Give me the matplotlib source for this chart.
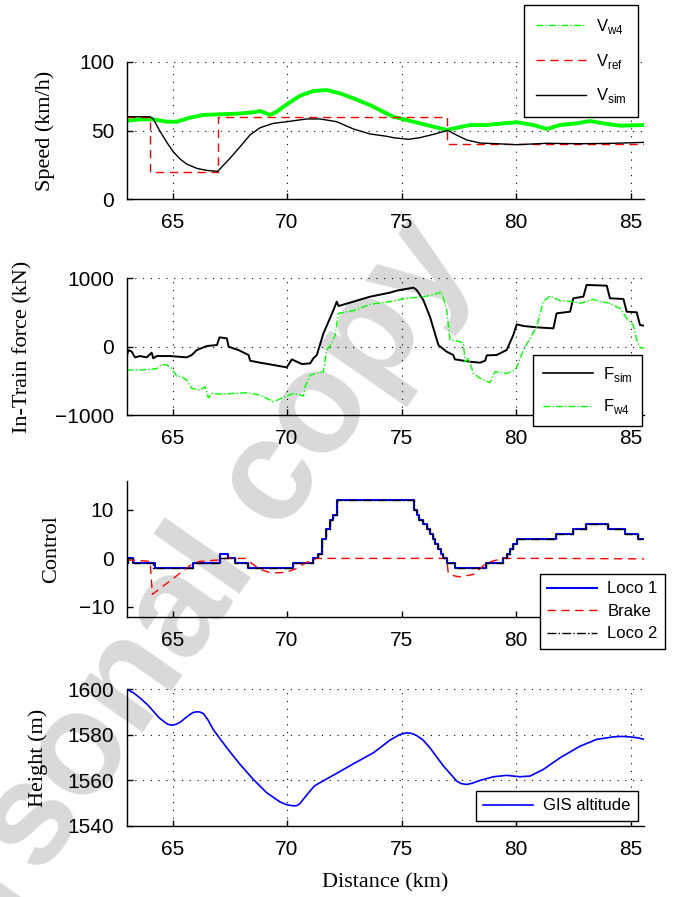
import numpy as np
import matplotlib
matplotlib.use('Agg')
import matplotlib.pyplot as plt
from matplotlib.lines import Line2D

plt.rcParams['font.family'] = ['Liberation Sans', 'DejaVu Sans']
plt.rcParams['mathtext.fontset'] = 'custom'
plt.rcParams['mathtext.rm'] = 'Liberation Sans'

# ---- speed panel ----
vw4_km = [63.0, 63.58, 64.16, 64.75, 65.18, 65.76, 66.34, 67.07, 67.8, 68.53, 68.82, 69.26,
          69.55, 69.99, 70.57, 71.15, 71.73, 72.31, 72.9, 73.62, 74.35, 74.64, 75.23, 75.81,
          76.39, 76.97, 77.41, 77.99, 78.72, 79.3, 80.03, 80.76, 81.34, 81.92, 82.65, 83.23,
          83.81, 84.54, 85.6]
vw4 = [57.1, 58.1, 58.1, 56.4, 56.4, 59.3, 61.3, 61.8, 62.2, 63.2, 64.2, 61.3,
       63.7, 69.0, 75.3, 78.7, 79.4, 77.0, 73.4, 68.5, 62.4, 60.0, 57.6, 55.2,
       52.8, 50.4, 52.0, 54.0, 54.0, 55.0, 56.0, 54.0, 51.1, 54.0, 55.2, 56.9,
       55.2, 53.5, 54.0]

vref_km = [63.0, 64.0, 64.0, 67.0, 67.0, 77.0, 77.0, 85.6]
vref = [60, 60, 20, 20, 60, 60, 40, 40]

vsim_km = [63.0, 64.02, 64.16, 64.45, 64.75, 65.03, 65.33, 65.62, 66.06, 66.5, 66.97, 67.51,
           67.95, 68.38, 68.82, 69.4, 69.99, 70.86, 71.44, 72.17, 72.9, 73.62, 74.35, 74.64,
           75.3, 75.8, 76.39, 77.02, 77.4, 77.85, 78.43, 79.16, 80.03, 81.34, 82.79, 84.25, 85.6]
vsim = [60, 60, 58.4, 49.6, 41.4, 34.6, 29.3, 25.6, 22.5, 21.0, 20.3, 29.8,
        38.2, 46.7, 52.0, 55.2, 56.4, 58.4, 58.4, 56.4, 51.1, 47.5, 45.8, 44.8,
        43.6, 44.8, 47.2, 50.1, 46.7, 43.1, 40.9, 40.4, 39.7, 40.7, 40.4, 40.7, 41.4]

# ---- in-train force panel ----
fsim_km = [63.0, 63.07, 63.22, 63.36, 63.58, 63.87, 64.09, 64.16, 64.31, 64.89, 65.62, 65.84,
           66.06, 66.5, 66.94, 67.05, 67.37, 67.45, 67.74, 67.88, 68.32, 68.39, 68.82, 69.41,
           69.99, 70.21, 70.43, 70.65, 71.01, 71.15, 71.3, 71.59, 72.03, 72.17, 72.25, 72.9,
           73.63, 74.5, 74.79, 75.52, 75.66, 75.95, 76.24, 76.61, 76.97, 77.26, 77.33, 77.99,
           78.43, 78.65, 78.72, 79.15, 79.59, 79.88, 80.03, 80.32, 80.9, 81.63, 81.77, 82.36,
           82.5, 82.94, 83.08, 83.96, 84.1, 84.69, 84.83, 85.27, 85.41, 85.6]
fsim = [-146, -49, -73, -156, -137, -156, -88, -171, -137, -137, -156, -122,
        -49, 10, 24, 137, 122, 0, -34, -49, -122, -205, -234, -268,
        -303, -185, -220, -254, -244, -171, -122, 195, 537, 659, 595, 659,
        732, 791, 820, 864, 830, 683, 439, 24, -73, -122, -185, -220,
        -234, -205, -127, -122, -49, 171, 327, 303, 283, 268, 488, 512,
        708, 732, 903, 893, 708, 698, 512, 503, 317, 307]

fw4_km = [63.0, 63.58, 64.31, 64.53, 64.75, 64.96, 65.18, 65.4, 65.62, 65.84, 66.2, 66.42,
          66.57, 66.72, 67.07, 67.8, 68.24, 68.82, 69.41, 69.99, 70.28, 70.72, 70.79, 71.01,
          71.3, 71.59, 71.73, 71.95, 72.1, 72.25, 72.9, 73.63, 74.5, 75.22, 75.95, 76.39,
          76.75, 76.97, 77.12, 77.55, 77.7, 77.77, 77.92, 78.14, 78.43, 78.86, 79.08, 79.59,
          79.95, 80.1, 80.32, 80.9, 81.19, 81.48, 81.92, 82.5, 82.79, 83.38, 83.67, 84.1,
          84.54, 84.83, 85.12, 85.27, 85.41, 85.6]
fw4 = [-342, -342, -322, -259, -268, -317, -429, -439, -488, -610, -634, -586,
       -747, -683, -693, -683, -673, -708, -805, -722, -683, -722, -586, -415,
       -390, -366, -49, 49, 171, 488, 527, 620, 659, 708, 732, 757,
       805, 537, 98, 73, 49, -220, -171, -390, -464, -527, -366, -390,
       -342, -244, -49, 293, 659, 742, 674, 659, 634, 693, 659, 634,
       561, 415, 317, 98, -10, -24]

# ---- control panel (notch steps) ----
notch_km = [63.0, 63.07, 63.26, 64.16, 64.24, 65.88, 67.07, 67.44, 67.73, 68.31, 70.25, 71.12,
            71.37, 71.51, 71.69, 71.88, 72.02, 72.2, 75.56, 75.66, 75.78, 75.92, 76.1, 76.24,
            76.39, 76.46, 76.61, 76.71, 76.83, 76.97, 77.33, 78.69, 79.42, 79.59, 79.74, 79.88,
            80.03, 81.75, 82.47, 83.06, 84.03, 84.76, 85.34, 85.6]
loco1 = [0, 0, -1, -1, -2, -1, 1, 0, -1, -2, -1, 0,
         1, 4, 6, 8, 9, 12, 10, 9, 8, 7, 6, 5,
         4, 3, 2, 1, 0, -1, -2, -1, 0, 1, 2, 3,
         4, 5, 6, 7, 6, 5, 4, 4]
loco2 = [-1, 0, -1, -2, -2, -1, 0, 0, -1, -2, -1, 0,
         1, 4, 6, 8, 9, 12, 10, 9, 8, 7, 6, 5,
         4, 3, 2, 1, 0, -1, -2, -1, 0, 1, 2, 3,
         4, 5, 6, 7, 6, 5, 4, 4]

brake_km = [63.0, 64.02, 64.12, 65.84, 66.2, 67.07, 67.3, 68.2, 68.45, 68.8, 69.26, 69.7,
            69.99, 70.35, 70.64, 71.07, 71.3, 76.97, 77.04, 77.3, 77.55, 78.14, 78.69, 79.01,
            79.45, 82.0, 85.6]
brake = [-0.3, -0.6, -7.4, -1.2, -0.6, -0.3, 0, 0, -1.0, -2.2, -2.95, -2.95,
         -2.8, -2.2, -1.4, -0.3, 0, 0, -3.0, -3.6, -3.8, -3.3, -1.0, -0.5,
         0, 0, -0.1]

# ---- altitude panel ----
h_km = [63.0, 63.3, 63.58, 63.9, 64.16, 64.4, 64.6, 64.78, 64.96, 65.15, 65.33, 65.55,
        65.76, 65.9, 66.06, 66.2, 66.35, 66.55, 66.78, 67.37, 67.95, 68.53, 69.11, 69.7,
        70.0, 70.28, 70.45, 70.57, 70.75, 71.0, 71.2, 71.44, 72.17, 72.9, 73.77, 74.5,
        74.9, 75.22, 75.45, 75.66, 75.95, 76.24, 76.83, 77.41, 77.6, 77.84, 78.1, 78.43,
        79.01, 79.59, 80.17, 80.61, 81.19, 81.92, 82.79, 83.52, 84.25, 84.6, 84.98, 85.3,
        85.6]
height = [1600, 1598.4, 1596.2, 1593.3, 1590.4, 1587.6, 1586.0, 1584.7, 1584.2, 1584.6, 1585.5, 1587.3,
          1588.9, 1589.8, 1590.1, 1590.0, 1589.3, 1586.5, 1582.3, 1574.3, 1567.0, 1560.4, 1554.6, 1550.5,
          1549.3, 1548.8, 1549.0, 1549.9, 1552.2, 1555.3, 1557.6, 1559.0, 1563.1, 1567.3, 1572.1, 1577.7,
          1580.0, 1580.9, 1580.6, 1579.7, 1577.6, 1574.3, 1566.3, 1559.7, 1558.6, 1558.2, 1558.8, 1560.0,
          1561.6, 1562.2, 1561.6, 1561.9, 1564.8, 1569.9, 1575.0, 1578.0, 1579.1, 1579.3, 1579.1, 1578.7,
          1578.0]

x_ticks = [65, 70, 75, 80, 85]
GREEN = '#00ff00'
SERIF = 'Liberation Serif'

fig = plt.figure(figsize=(6.78, 8.97), dpi=100)

# watermark, drawn behind the (transparent) axes
fig.text(0.236, 0.283, 'Personal copy', rotation=55, fontsize=104, fontweight='bold',
         color='#d9d9d9', ha='center', va='center', rotation_mode='anchor', zorder=-10)

left, width = 0.1869, 0.7634
ax1 = fig.add_axes([left, 0.7778, width, 0.1534])
ax2 = fig.add_axes([left, 0.5373, width, 0.1524])
ax3 = fig.add_axes([left, 0.3125, width, 0.1516])
ax4 = fig.add_axes([left, 0.0792, width, 0.1524])


def style_axis(ax, yticks, ylim, grid=True):
    ax.set_facecolor('none')
    ax.set_xlim(63, 85.6)
    ax.set_ylim(*ylim)
    ax.set_xticks(x_ticks)
    ax.set_yticks(yticks)
    for s in ['top', 'right']:
        ax.spines[s].set_visible(False)
    for s in ['left', 'bottom']:
        ax.spines[s].set_linewidth(1.0)
    ax.tick_params(direction='in', length=4, width=1.0, labelsize=15)
    ax.tick_params(axis='x', pad=10)
    ax.tick_params(axis='y', pad=9)
    if grid:
        ax.grid(True, color='k', linestyle=(0, (1, 6)), linewidth=0.8)


def add_legend(ax, handles, labels, corner, spacing, bpad=0.55):
    leg = ax.legend(handles, labels, loc='upper right', bbox_to_anchor=corner,
                    bbox_transform=fig.transFigure, fancybox=False, edgecolor='k',
                    framealpha=1, borderaxespad=0, handlelength=3.0, handletextpad=0.6,
                    fontsize=12, labelspacing=spacing, borderpad=bpad)
    leg.get_frame().set_linewidth(1.0)
    return leg


# 1. speed
ax1.plot(vw4_km, vw4, color=GREEN, linewidth=2.8, solid_joinstyle='round')
ax1.plot(vref_km, vref, 'r--', dashes=(6, 4), linewidth=1.0)
ax1.plot(vsim_km, vsim, 'k-', linewidth=1.0)
style_axis(ax1, [0, 50, 100], (0, 100))
ax1.set_ylabel('Speed (km/h)', family=SERIF, fontsize=16)
ax1.yaxis.set_label_coords(-0.1385, 0.5)
h1 = [Line2D([], [], color=GREEN, linestyle=(0, (5, 1.5, 1, 1.5)), linewidth=1.0),
      Line2D([], [], color='r', linestyle='--', dashes=(6, 4), linewidth=1.0),
      Line2D([], [], color='k', linewidth=1.0)]
add_legend(ax1, h1, [r'V$_{\mathrm{w4}}$', r'V$_{\mathrm{ref}}$', r'V$_{\mathrm{sim}}$'],
           (0.941, 0.9944), 0.95, 0.7)

# 2. in-train force
ax2.plot(fsim_km, fsim, 'k-', linewidth=1.4)
ax2.plot(fw4_km, fw4, color=GREEN, linestyle=(0, (5, 1.5, 1, 1.5)), linewidth=1.0)
style_axis(ax2, [-1000, 0, 1000], (-1000, 1000))
ax2.set_ylabel('In-Train force (kN)', family=SERIF, fontsize=16)
ax2.yaxis.set_label_coords(-0.183, 0.5)
h2 = [Line2D([], [], color='k', linewidth=1.2),
      Line2D([], [], color=GREEN, linestyle=(0, (5, 1.5, 1, 1.5)), linewidth=1.0)]
add_legend(ax2, h2, [r'F$_{\mathrm{sim}}$', r'F$_{\mathrm{w4}}$'], (0.947, 0.6042), 0.8, 0.6)

# 3. control
ax3.plot(notch_km, loco1, color='b', linewidth=1.5, drawstyle='steps-post')
ax3.plot(brake_km, brake, 'r--', dashes=(6, 4), linewidth=1.0)
ax3.plot(notch_km, loco2, color='k', linestyle='-.', linewidth=1.0, drawstyle='steps-post')
style_axis(ax3, [-10, 0, 10], (-12, 16), grid=False)
ax3.set_ylabel('Control', family=SERIF, fontsize=16)
ax3.yaxis.set_label_coords(-0.127, 0.5)
h3 = [Line2D([], [], color='b', linewidth=1.5),
      Line2D([], [], color='r', linestyle='--', dashes=(6, 4), linewidth=1.0),
      Line2D([], [], color='k', linestyle='-.', linewidth=1.0)]
add_legend(ax3, h3, ['Loco 1', 'Brake', 'Loco 2'], (0.981, 0.3601), 0.45, 0.45)

# 4. altitude
ax4.plot(h_km, height, color='b', linewidth=1.2)
style_axis(ax4, [1540, 1560, 1580, 1600], (1540, 1600))
ax4.set_ylabel('Height (m)', family=SERIF, fontsize=16)
ax4.yaxis.set_label_coords(-0.152, 0.5)
ax4.set_xlabel('Distance (km)', family=SERIF, fontsize=16)
ax4.xaxis.set_label_coords(0.5, -0.345)
h4 = [Line2D([], [], color='b', linewidth=1.2)]
add_legend(ax4, h4, ['GIS altitude'], (0.941, 0.1182), 0.5, 0.45)

fig.savefig('out.png', dpi=100)
